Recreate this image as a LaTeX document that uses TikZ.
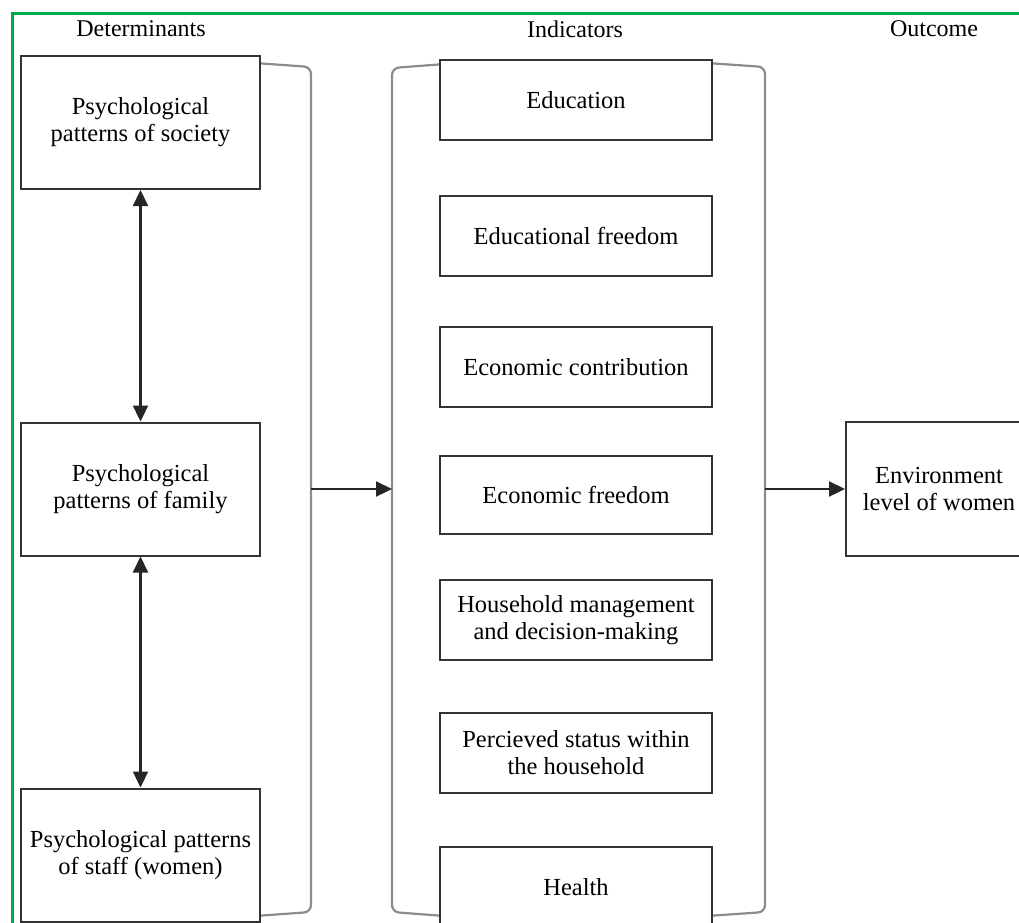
\documentclass[tikz,border=0pt]{standalone}
\usepackage{fontspec}
\setmainfont{Liberation Serif}
\usepackage{tikz}
\usepackage{xcolor}
\usetikzlibrary{arrows.meta}
\definecolor{framegreen}{RGB}{0,170,70}
\definecolor{bracketgray}{RGB}{140,140,140}
\tikzset{
    base-box/.style = {draw=black!80, line width=2pt, fill=white, rectangle, align=center, inner sep=0pt,
        font=\fontsize{24.5}{27}\selectfont},
    det-box/.style = {base-box, minimum width=239pt, minimum height=133pt},
    ind-box/.style = {base-box, minimum width=272pt, minimum height=80pt},
    out-box/.style = {base-box, minimum width=186pt, minimum height=134pt},
    head-label/.style = {font=\fontsize{24}{27}\selectfont},
    bracket-line/.style = {draw=bracketgray, line width=2.2pt, rounded corners=7pt},
    flow-arrow/.style = {draw=black!85, line width=2.2pt, -{Triangle[length=16pt,width=15pt]}},
    both-arrow/.style = {draw=black!85, line width=2.2pt, {Triangle[length=16pt,width=15pt]}-{Triangle[length=16pt,width=15pt]}},
}

\begin{document}
\begin{tikzpicture}[x=1pt, y=-1pt]
\useasboundingbox (0,0) rectangle (1019,922);
\clip (0,0) rectangle (1019,922);
% frame
\draw[framegreen, line width=3pt] (12,930) -- (12,13) -- (1030,13);

% headings
\node[head-label] (det-head) at (141,29) {Determinants};
\node[head-label] (ind-head) at (575,29) {Indicators};
\node[head-label] (out-head) at (934,29) {Outcome};

% brackets
\coordinate (lb-top) at (255,63);
\coordinate (lb-bot) at (255,916);
\coordinate (mb-ltop) at (445,64);
\coordinate (mb-lbot) at (445,916);
\coordinate (mb-rtop) at (707,63);
\coordinate (mb-rbot) at (707,916);
\draw[bracket-line] (lb-top) -- (311,67) -- (311,912) -- (lb-bot);
\draw[bracket-line] (mb-ltop) -- (392,68) -- (392,912) -- (mb-lbot);
\draw[bracket-line] (mb-rtop) -- (765,67) -- (765,912) -- (mb-rbot);

% determinants
\node[det-box] (society) at (140.5,122.5) {Psychological\\patterns of society};
\node[det-box] (family) at (140.5,489) {Psychological\\patterns of family};
\node[det-box] (staff) at (140.5,855) {Psychological patterns\\of staff (women)};

% indicators
\node[ind-box] (education) at (576,100) {Education};
\node[ind-box] (edu-freedom) at (576,236) {Educational freedom};
\node[ind-box] (eco-contrib) at (576,367) {Economic contribution};
\node[ind-box, minimum height=78pt] (eco-freedom) at (576,495) {Economic freedom};
\node[ind-box] (household) at (576,620) {Household management\\and decision-making};
\node[ind-box] (status) at (576,753) {Percieved status within\\the household};
\node[ind-box] (health) at (576,887) {Health};

% outcome
\node[out-box] (outcome) at (939,489) {Environment\\level of women};

% connectors
\coordinate (lb-mid) at (311,489);
\coordinate (mb-lmid) at (392,489);
\coordinate (mb-rmid) at (765,489);
\draw[both-arrow] (society) -- (family);
\draw[both-arrow] (family) -- (staff);
\draw[flow-arrow] (lb-mid) -- (mb-lmid);
\draw[flow-arrow] (mb-rmid) -- (outcome);
\end{tikzpicture}
\end{document}
